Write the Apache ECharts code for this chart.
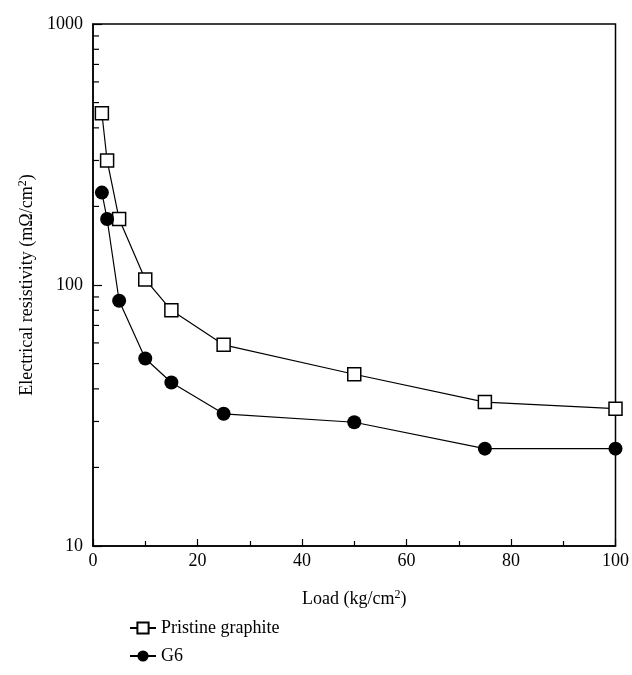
<!DOCTYPE html>
<html>
<head>
<meta charset="utf-8">
<script src="https://cdn.jsdelivr.net/npm/echarts@6/dist/echarts.min.js"></script>
<style>
  html, body { margin: 0; padding: 0; background: #fff; }
  #chart { width: 632px; height: 675px; }
</style>
</head>
<body>
<div id="chart"></div>
<script>
// load values (kg/cm2)
var loads = [1.7, 2.7, 5, 10, 15, 25, 50, 75, 100];
// resistivity (mOhm/cm2)
var pristine = [455, 300, 179, 105, 80, 59, 45.5, 35.6, 33.6];
var g6 = [226, 179, 87, 52.3, 42.3, 32.1, 29.8, 23.6, 23.6];
// minor ticks of the log axis
var yMinorTicks = [20, 30, 40, 50, 60, 70, 80, 90, 200, 300, 400, 500, 600, 700, 800, 900];

var font = 'Liberation Serif';

function pairs(xs, ys) {
  return xs.map(function (x, i) { return [x, ys[i]]; });
}

// superscript "2" styles for axis names
var supRich = {
  t: {fontFamily: font, fontSize: 18, color: '#000'},
  s: {fontFamily: font, fontSize: 12, color: '#000', padding: [0, 0, 9, 0]}
};

var chart = echarts.init(document.getElementById('chart'));
var option = {
  animation: false,
  textStyle: {fontFamily: font},
  grid: {
    left: 93, top: 24, right: 15, bottom: 129,
    show: true, borderColor: '#000', borderWidth: 1.5
  },
  legend: {
    orient: 'vertical',
    left: 124,
    top: 614,
    itemWidth: 26,
    itemHeight: 14,
    itemGap: 10,
    textStyle: {fontFamily: font, fontSize: 18, color: '#000'},
    data: ['Pristine graphite', 'G6']
  },
  xAxis: {
    type: 'value',
    min: 0, max: 100, interval: 20,
    name: '{t|Load (kg/cm}{s|2}{t|)}',
    nameLocation: 'middle',
    nameGap: 43,
    nameTextStyle: {fontFamily: font, fontSize: 18, color: '#000', rich: supRich},
    axisLine: {lineStyle: {color: '#000', width: 1.5}},
    axisTick: {inside: true, length: 7, lineStyle: {color: '#000', width: 1.2}},
    minorTick: {show: true, splitNumber: 2, length: 5, lineStyle: {color: '#000', width: 1.2}},
    axisLabel: {fontFamily: font, fontSize: 18, color: '#000', margin: 6},
    splitLine: {show: false}
  },
  yAxis: {
    type: 'log',
    logBase: 10,
    min: 10, max: 1000,
    name: '{t|Electrical resistivity (mΩ/cm}{s|2}{t|)}',
    nameLocation: 'middle',
    nameGap: 51,
    nameTextStyle: {fontFamily: font, fontSize: 18, color: '#000', rich: supRich},
    axisLine: {lineStyle: {color: '#000', width: 1.5}},
    axisTick: {inside: true, length: 9, lineStyle: {color: '#000', width: 1.2}},
    axisLabel: {
      fontFamily: font, fontSize: 18, color: '#000', margin: 10,
      formatter: function (v) { return String(Math.round(v)); }
    },
    splitLine: {show: false}
  },
  series: [
    {
      name: 'minor',
      type: 'custom',
      silent: true,
      data: yMinorTicks.map(function (v) { return [0, v]; }),
      renderItem: function (params, api) {
        var p = api.coord([0, api.value(1)]);
        return {
          type: 'line',
          shape: {x1: p[0], y1: p[1], x2: p[0] + 6, y2: p[1]},
          style: {stroke: '#000', lineWidth: 1.2}
        };
      },
      z: 1
    },
    {
      name: 'Pristine graphite',
      type: 'line',
      data: pairs(loads, pristine),
      symbol: 'rect',
      symbolSize: 13,
      lineStyle: {color: '#000', width: 1.2},
      itemStyle: {color: '#fff', borderColor: '#000', borderWidth: 1.5},
      z: 3
    },
    {
      name: 'G6',
      type: 'line',
      data: pairs(loads, g6),
      symbol: 'circle',
      symbolSize: 14,
      lineStyle: {color: '#000', width: 1.2},
      itemStyle: {color: '#000', borderColor: '#000', borderWidth: 0},
      z: 3
    }
  ]
};
chart.setOption(option);
</script>
</body>
</html>
